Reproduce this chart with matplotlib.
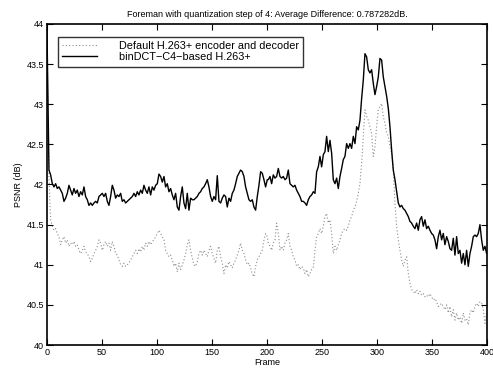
import numpy as np
import matplotlib
matplotlib.use("Agg")
import matplotlib.pyplot as plt

# PSNR per frame (one reading every ~1.5 frames)
step = 1.515

# binDCT-C4-based H.263+ (solid)
bindct_start = 43.93   # frame 0
bindct_left = [
    42.18, 42.12, 42.01, 41.97, 42.01, 41.95, 41.97, 41.93, 41.89, 41.79,
    41.83, 41.89, 41.99, 41.93, 41.87, 41.95, 41.89, 41.93, 41.85, 41.91,
    41.87, 41.97, 41.85, 41.81, 41.74, 41.77, 41.74, 41.77, 41.79, 41.77,
    41.85, 41.87, 41.89, 41.85, 41.89, 41.79, 41.74, 41.85, 41.99, 41.93,
    41.83, 41.87, 41.85, 41.89, 41.79, 41.81, 41.77, 41.79, 41.81, 41.83,
    41.85, 41.89, 41.85, 41.91, 41.87, 41.93, 41.89, 41.99, 41.93, 41.89,
    41.97, 41.87, 41.97, 41.93, 41.99, 42.01, 42.13, 42.10, 42.03, 42.10,
    41.97, 42.01, 41.91, 41.95, 41.87, 41.81, 41.89, 41.72, 41.68, 41.85,
    41.97, 41.77, 41.70, 41.89, 41.68, 41.83, 41.81, 41.81, 41.83, 41.85,
    41.89, 41.91, 41.95, 41.97, 42.01, 42.06, 41.97, 41.85, 41.79, 41.85,
    41.81, 42.11, 41.79, 41.77, 41.83, 41.87, 41.85, 41.72, 41.83, 41.79,
    41.89, 41.93, 42.01, 42.10, 42.14, 42.18, 42.16, 42.10, 41.97, 41.89,
    41.81, 41.79, 41.81, 41.72, 41.68, 41.85, 41.99, 42.16, 42.14, 42.06,
    41.97, 42.06,
]
bindct_right = [
    42.06, 42.10, 42.01, 42.12, 42.08, 42.10, 42.20, 42.10, 42.08, 42.10,
    42.06, 42.08, 42.18, 42.01, 41.99, 41.97, 41.99, 41.93, 41.89, 41.85,
    41.79, 41.79, 41.77, 41.74, 41.81, 41.85, 41.87, 41.91, 41.89, 42.16,
    42.22, 42.35, 42.22, 42.37, 42.41, 42.60, 42.41, 42.55, 42.39, 42.06,
    42.01, 42.08, 41.95, 42.10, 42.20, 42.31, 42.35, 42.51, 42.45, 42.51,
    42.45, 42.60, 42.51, 42.72, 42.68, 42.80, 43.07, 43.30, 43.63, 43.59,
    43.43, 43.39, 43.43, 43.26, 43.12, 43.22, 43.34, 43.57, 43.55, 43.34,
    43.22, 43.10, 42.95, 42.72, 42.43, 42.18, 42.06, 41.91, 41.77, 41.72,
    41.74, 41.70, 41.68, 41.64, 41.60, 41.54, 41.52, 41.48, 41.45, 41.52,
    41.43, 41.56, 41.60, 41.48, 41.56, 41.45, 41.48, 41.43, 41.39, 41.37,
    41.31, 41.20, 41.35, 41.43, 41.31, 41.39, 41.25, 41.35, 41.29, 41.20,
    41.18, 41.33, 41.12, 41.35, 41.14, 41.18, 41.02, 41.14, 41.00, 41.18,
    40.98, 41.14, 41.23, 41.35, 41.37, 41.35, 41.39, 41.50, 41.31, 41.18,
    41.23, 41.14,
]

# Default H.263+ encoder and decoder (dotted)
default_start = 43.85  # frame 0
default_left = [
    42.10, 41.56, 41.48, 41.43, 41.45, 41.39, 41.35, 41.25, 41.31, 41.35,
    41.27, 41.31, 41.23, 41.27, 41.25, 41.29, 41.23, 41.25, 41.18, 41.14,
    41.18, 41.23, 41.16, 41.14, 41.10, 41.04, 41.08, 41.14, 41.18, 41.23,
    41.31, 41.27, 41.18, 41.25, 41.29, 41.23, 41.27, 41.18, 41.29, 41.23,
    41.14, 41.12, 41.06, 41.00, 40.98, 41.02, 40.98, 41.00, 41.02, 41.06,
    41.10, 41.14, 41.18, 41.14, 41.20, 41.16, 41.23, 41.18, 41.27, 41.23,
    41.29, 41.25, 41.29, 41.31, 41.35, 41.39, 41.43, 41.39, 41.35, 41.31,
    41.18, 41.14, 41.10, 41.12, 41.06, 40.98, 41.02, 40.91, 41.02, 40.94,
    41.00, 41.06, 41.14, 41.25, 41.31, 41.18, 41.08, 41.00, 40.98, 41.04,
    41.14, 41.18, 41.12, 41.18, 41.14, 41.10, 41.18, 41.23, 41.14, 41.08,
    41.02, 41.18, 41.23, 41.10, 41.02, 40.89, 41.00, 40.96, 41.04, 41.00,
    40.96, 41.02, 41.06, 41.12, 41.18, 41.27, 41.18, 41.14, 41.06, 41.00,
    41.02, 40.96, 40.89, 40.85, 40.98, 41.06, 41.10, 41.14, 41.18, 41.31,
    41.39, 41.35,
]
default_right = [
    41.27, 41.23, 41.18, 41.27, 41.31, 41.52, 41.39, 41.18, 41.23, 41.18,
    41.27, 41.31, 41.39, 41.23, 41.18, 41.10, 41.06, 40.98, 41.00, 40.94,
    40.98, 40.96, 40.89, 40.94, 40.85, 40.89, 40.94, 40.96, 41.18, 41.35,
    41.39, 41.45, 41.39, 41.48, 41.60, 41.64, 41.52, 41.56, 41.39, 41.14,
    41.23, 41.18, 41.25, 41.31, 41.39, 41.43, 41.45, 41.43, 41.48, 41.56,
    41.60, 41.68, 41.72, 41.79, 41.89, 42.01, 42.26, 42.60, 42.93, 42.85,
    42.80, 42.72, 42.64, 42.35, 42.47, 42.72, 42.93, 42.97, 43.01, 42.85,
    42.76, 42.64, 42.60, 42.47, 42.39, 42.18, 41.77, 41.48, 41.31, 41.18,
    41.06, 40.98, 41.06, 41.10, 40.89, 40.77, 40.69, 40.67, 40.64, 40.69,
    40.64, 40.67, 40.62, 40.64, 40.60, 40.62, 40.60, 40.64, 40.60, 40.56,
    40.58, 40.54, 40.48, 40.50, 40.52, 40.48, 40.44, 40.50, 40.40, 40.48,
    40.35, 40.44, 40.31, 40.40, 40.31, 40.35, 40.27, 40.40, 40.31, 40.33,
    40.25, 40.40, 40.44, 40.40, 40.48, 40.52, 40.48, 40.54, 40.52, 40.44,
    40.27, 40.40,
]

left_frames = 1.8 + step * np.arange(len(bindct_left))
right_frames = 201.2 + step * np.arange(len(bindct_right))
frames = np.concatenate([[0], left_frames, right_frames])

bindct = np.concatenate([[bindct_start], bindct_left, bindct_right])
default = np.concatenate([[default_start], default_left, default_right])

plt.rcParams['font.family'] = ['Liberation Sans', 'DejaVu Sans']

fig = plt.figure(figsize=(4.93, 3.69), dpi=100)
ax = fig.add_axes([0.0953, 0.065, 0.8925, 0.870])

ax.plot(frames, default, linestyle=(0, (1, 2)), color='#8c8c8c', linewidth=0.8,
        label='Default H.263+ encoder and decoder')
ax.plot(frames, bindct, color='black', linewidth=1.0,
        label='binDCT\u2212C4\u2212based H.263+')

ax.set_xlim(0, 400)
ax.set_ylim(40, 44)
ax.set_xticks(np.arange(0, 401, 50))
ax.set_yticks(np.arange(40, 44.01, 0.5))
ax.set_yticklabels(['40', '40.5', '41', '41.5', '42', '42.5', '43', '43.5', '44'])
ax.tick_params(direction='in', length=4, width=0.8, labelsize=6.5, pad=2,
               top=True, right=True)
for s in ax.spines.values():
    s.set_linewidth(1.2)

ax.set_xlabel('Frame', fontsize=6.5, labelpad=1)
ax.set_ylabel('PSNR (dB)', fontsize=6.5, labelpad=3)
ax.set_title('Foreman with quantization step of 4: Average Difference: 0.787282dB.',
             fontsize=6.5, pad=5)

leg = ax.legend(loc='upper left', bbox_to_anchor=(0.025, 0.96), fontsize=7.8,
                frameon=True, fancybox=False, handlelength=3.2, handletextpad=2.0,
                borderpad=0.4, labelspacing=0.1, borderaxespad=0)
leg.get_frame().set_edgecolor('black')
leg.get_frame().set_linewidth(1.0)

fig.savefig('out.png', dpi=100)
